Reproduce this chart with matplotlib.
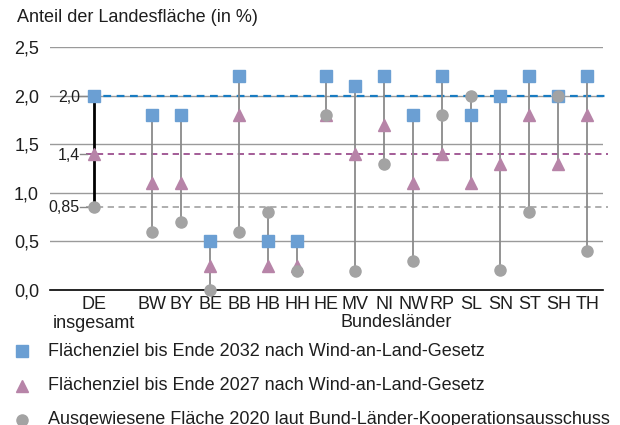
"""Flächenziele Windenergie an Land je Bundesland (Dumbbell-Chart)."""

import matplotlib

matplotlib.use("Agg")
import matplotlib.pyplot as plt
from matplotlib.lines import Line2D

plt.rcParams["font.family"] = ["Liberation Sans", "DejaVu Sans"]

# Daten (Anteil der Landesfläche in %)
laender = ["BW", "BY", "BE", "BB", "HB", "HH", "HE", "MV", "NI",
           "NW", "RP", "SL", "SN", "ST", "SH", "TH"]
ziel_2032 = [1.8, 1.8, 0.5, 2.2, 0.5, 0.5, 2.2, 2.1, 2.2,
             1.8, 2.2, 1.8, 2.0, 2.2, 2.0, 2.2]
ziel_2027 = [1.1, 1.1, 0.25, 1.8, 0.25, 0.25, 1.8, 1.4, 1.7,
             1.1, 1.4, 1.1, 1.3, 1.8, 1.3, 1.8]
flaeche_2020 = [0.6, 0.7, 0.0, 0.6, 0.8, 0.2, 1.8, 0.2, 1.3,
                0.3, 1.8, 2.0, 0.21, 0.8, 2.0, 0.4]

de_label = "DE\ninsgesamt"
de_2032 = 2.0
de_2027 = 1.4
de_2020 = 0.85

yticks = [0.0, 0.5, 1.0, 1.5, 2.0, 2.5]

C_SQUARE = "#6b9fd3"
C_TRI = "#b784a8"
C_CIRC = "#a3a3a3"
C_BLUE_DASH = "#1a7cc1"
C_PINK_DASH = "#9c4f8f"
C_GRAY_DASH = "#a8a8a8"
C_TEXT = "#1e1e1e"

fig = plt.figure(figsize=(6.2, 4.25), dpi=100)
ax = fig.add_axes([0.081, 0.3176, 0.892, 0.5718])

x_de = 0
x_l = list(range(2, 2 + len(laender)))

ax.set_xlim(-1.52, 17.55)
ax.set_ylim(0, 2.5)

# Gitterlinien
for y in yticks[1:]:
    ax.axhline(y, color="#9a9a9a", lw=1.0, zorder=1)
for s in ["top", "right", "left"]:
    ax.spines[s].set_visible(False)
ax.spines["bottom"].set_color("black")
ax.spines["bottom"].set_linewidth(1.2)
ax.spines["bottom"].set_zorder(2)

# Referenzlinien (DE-Werte)
x_end = 17.72
ax.plot([x_de - 0.15, x_end], [de_2032, de_2032], ls=(0, (3.5, 2.5)),
        color=C_BLUE_DASH, lw=1.6, clip_on=False, zorder=2)
ax.plot([x_de - 0.3, x_end], [de_2027, de_2027], ls=(0, (3.5, 2.5)),
        color=C_PINK_DASH, lw=1.3, clip_on=False, zorder=2)
ax.plot([x_de - 0.3, x_end], [de_2020, de_2020], ls=(0, (3.5, 2.5)),
        color=C_GRAY_DASH, lw=1.3, clip_on=False, zorder=2)

# Verbindungslinien
for x, a, b, c in zip(x_l, ziel_2032, ziel_2027, flaeche_2020):
    ax.plot([x, x], [min(a, b, c), max(a, b, c)], color="#8a8a8a",
            lw=1.3, zorder=3, solid_capstyle="butt")
ax.plot([x_de, x_de], [de_2020, de_2032], color="black", lw=2.0, zorder=3)

# Marker
ms = 8
ax.plot(x_l + [x_de], ziel_2032 + [de_2032], ls="none", marker="s", ms=ms,
        color=C_SQUARE, zorder=4, clip_on=False)
ax.plot(x_l + [x_de], ziel_2027 + [de_2027], ls="none", marker="^", ms=ms,
        color=C_TRI, zorder=5, clip_on=False)
ax.plot(x_l + [x_de], flaeche_2020 + [de_2020], ls="none", marker="o", ms=ms,
        color=C_CIRC, zorder=6, clip_on=False)

# Beschriftung der DE-Werte
for val, txt, dy in [(de_2032, "2,0", -0.02), (de_2027, "1,4", -0.02),
                     (de_2020, "0,85", 0.0)]:
    ax.text(x_de - 0.5, val + dy, txt, ha="right", va="center",
            fontsize=11.5, color=C_TEXT, zorder=7)
    ax.plot([x_de - 0.48, x_de - 0.25], [val, val], color="#888888",
            lw=1.0, zorder=3)

# Achsen
ax.set_yticks(yticks)
ax.set_yticklabels([f"{v:.1f}".replace(".", ",") for v in yticks],
                   fontsize=13, color=C_TEXT)
ax.set_xticks([x_de] + x_l)
ax.set_xticklabels([de_label] + laender, fontsize=13, color=C_TEXT,
                   linespacing=1.15)
ax.tick_params(length=0, pad=4)
ax.tick_params(axis="y", pad=8)
ax.text(10.4, -0.245, "Bundesländer", ha="center", va="top", fontsize=13,
        color=C_TEXT)

fig.text(0.027, 0.958, "Anteil der Landesfläche (in %)", ha="left",
         va="center", fontsize=13, color=C_TEXT)

# Legende
legend_items = [
    ("s", C_SQUARE, "Flächenziel bis Ende 2032 nach Wind-an-Land-Gesetz", 351),
    ("^", C_TRI, "Flächenziel bis Ende 2027 nach Wind-an-Land-Gesetz", 386),
    ("o", C_CIRC, "Ausgewiesene Fläche 2020 laut Bund-Länder-Kooperationsausschuss", 420),
]
for marker, color, label, ypix in legend_items:
    yf = 1 - ypix / 425
    fig.lines.append(Line2D([0.036], [yf], marker=marker, ms=8, color=color,
                            ls="none", transform=fig.transFigure))
    fig.text(0.077, yf, label, ha="left", va="center", fontsize=13,
             color=C_TEXT)

fig.savefig("out.png", dpi=100)
